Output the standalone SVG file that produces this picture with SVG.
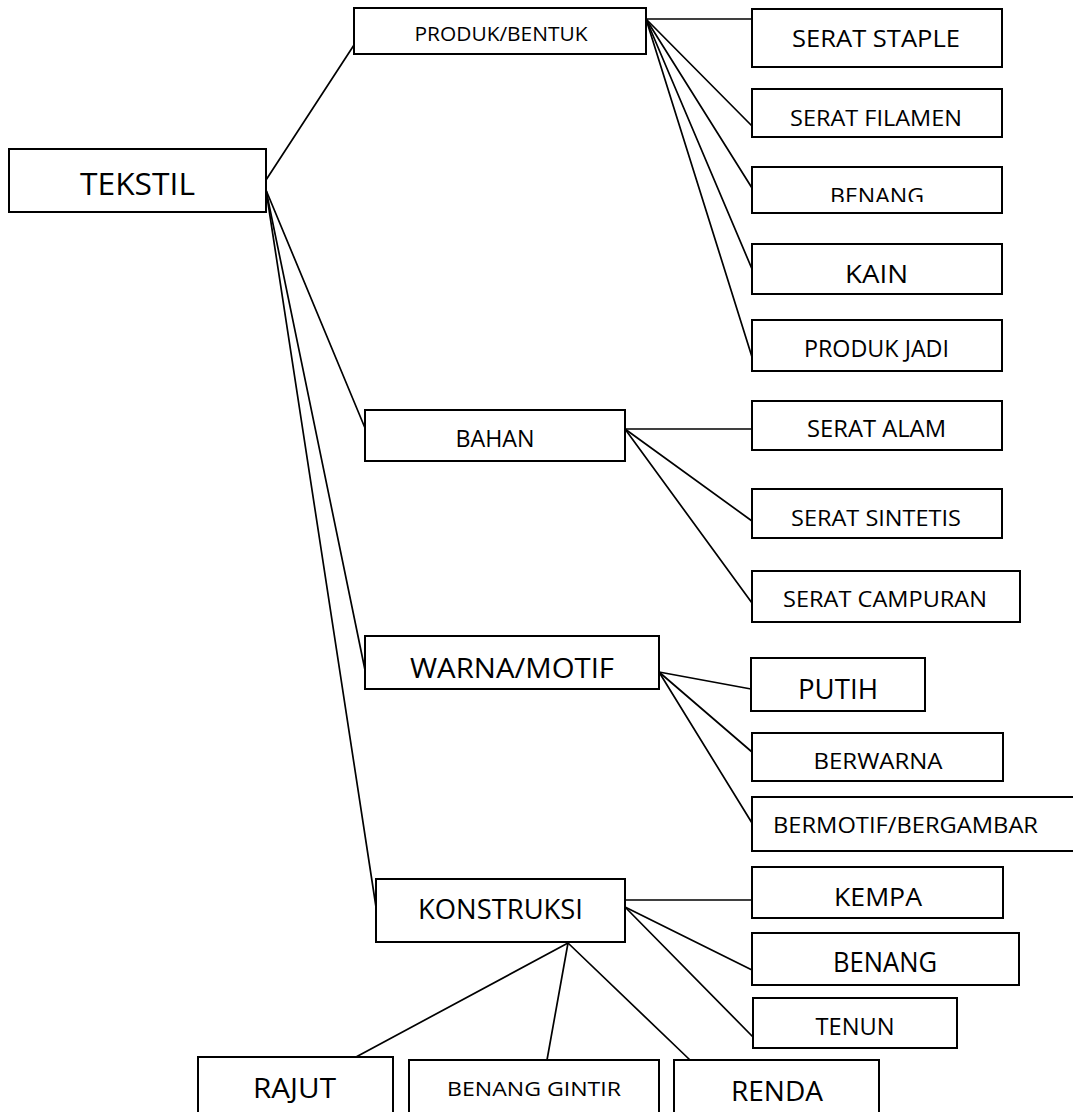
<svg xmlns="http://www.w3.org/2000/svg" width="1073" height="1112" viewBox="0 0 1073 1112">
  <style>
    .box { fill: #ffffff; stroke: #000000; stroke-width: 2; }
    .lbl { font-family: "Open Sans", "Noto Sans", "Liberation Sans", sans-serif; text-anchor: middle; fill: #000000; }
    #connectors line { stroke: #000000; stroke-width: 1.7; stroke-linecap: round; }
  </style>
  <defs>
    <!-- the label in this box is cut off along its bottom edge -->
    <clipPath id="clip-benang">
      <rect x="752" y="167" width="250" height="35"/>
    </clipPath>
  </defs>
  <rect x="0" y="0" width="1073" height="1112" fill="#ffffff"/>

  <g id="connectors">
    <!-- TEKSTIL to the four groups -->
    <line x1="266" y1="180" x2="354" y2="45"/>
    <line x1="266" y1="190" x2="365" y2="428"/>
    <line x1="266" y1="190" x2="365" y2="670"/>
    <line x1="266" y1="190" x2="376" y2="907"/>
    <!-- PRODUK/BENTUK -->
    <line x1="646" y1="19" x2="752" y2="19"/>
    <line x1="646" y1="19" x2="752" y2="126"/>
    <line x1="646" y1="19" x2="752" y2="188"/>
    <line x1="646" y1="19" x2="752" y2="269"/>
    <line x1="646" y1="19" x2="752" y2="357"/>
    <!-- BAHAN -->
    <line x1="625" y1="429" x2="752" y2="429"/>
    <line x1="625" y1="429" x2="752" y2="521"/>
    <line x1="625" y1="429" x2="752" y2="603"/>
    <!-- WARNA/MOTIF -->
    <line x1="659" y1="672" x2="751" y2="689"/>
    <line x1="659" y1="672" x2="752" y2="752"/>
    <line x1="659" y1="672" x2="752" y2="823"/>
    <!-- KONSTRUKSI -->
    <line x1="625" y1="900" x2="752" y2="900"/>
    <line x1="625" y1="907" x2="752" y2="970"/>
    <line x1="625" y1="907" x2="753" y2="1037"/>
    <line x1="568" y1="943" x2="356" y2="1057"/>
    <line x1="568" y1="943" x2="547" y2="1060"/>
    <line x1="568" y1="943" x2="690" y2="1060"/>
  </g>

  <g id="tekstil">
    <rect class="box" x="9" y="149" width="257" height="63"/>
    <text class="lbl" x="137.5" y="195" font-size="30.8" textLength="115" lengthAdjust="spacingAndGlyphs">TEKSTIL</text>
  </g>

  <g id="produk-bentuk">
    <rect class="box" x="354" y="8" width="292" height="46"/>
    <text class="lbl" x="501" y="41" font-size="19.5" textLength="173" lengthAdjust="spacingAndGlyphs">PRODUK/BENTUK</text>
  </g>
  <g id="serat-staple">
    <rect class="box" x="752" y="9" width="250" height="58"/>
    <text class="lbl" x="876" y="47" font-size="23.8" textLength="168" lengthAdjust="spacingAndGlyphs">SERAT STAPLE</text>
  </g>
  <g id="serat-filamen">
    <rect class="box" x="752" y="89" width="250" height="48"/>
    <text class="lbl" x="876" y="126" font-size="22.4" textLength="172" lengthAdjust="spacingAndGlyphs">SERAT FILAMEN</text>
  </g>
  <g id="benang-produk">
    <rect class="box" x="752" y="167" width="250" height="46"/>
    <text class="lbl" x="877" y="203.5" font-size="22.4" textLength="94" lengthAdjust="spacingAndGlyphs" clip-path="url(#clip-benang)">BENANG</text>
  </g>
  <g id="kain">
    <rect class="box" x="752" y="244" width="250" height="50"/>
    <text class="lbl" x="876.5" y="283" font-size="25.2" textLength="63" lengthAdjust="spacingAndGlyphs">KAIN</text>
  </g>
  <g id="produk-jadi">
    <rect class="box" x="752" y="320" width="250" height="51"/>
    <text class="lbl" x="876.5" y="357" font-size="23.8" textLength="145" lengthAdjust="spacingAndGlyphs">PRODUK JADI</text>
  </g>

  <g id="bahan">
    <rect class="box" x="365" y="410" width="260" height="51"/>
    <text class="lbl" x="495" y="447" font-size="23.8" textLength="79" lengthAdjust="spacingAndGlyphs">BAHAN</text>
  </g>
  <g id="serat-alam">
    <rect class="box" x="752" y="401" width="250" height="49"/>
    <text class="lbl" x="876.5" y="437" font-size="23.8" textLength="139" lengthAdjust="spacingAndGlyphs">SERAT ALAM</text>
  </g>
  <g id="serat-sintetis">
    <rect class="box" x="752" y="489" width="250" height="49"/>
    <text class="lbl" x="876" y="526" font-size="22.4" textLength="170" lengthAdjust="spacingAndGlyphs">SERAT SINTETIS</text>
  </g>
  <g id="serat-campuran">
    <rect class="box" x="752" y="571" width="268" height="51"/>
    <text class="lbl" x="885" y="607" font-size="22.4" textLength="204" lengthAdjust="spacingAndGlyphs">SERAT CAMPURAN</text>
  </g>

  <g id="warna-motif">
    <rect class="box" x="365" y="636" width="294" height="53"/>
    <text class="lbl" x="512" y="678" font-size="26.6" textLength="204" lengthAdjust="spacingAndGlyphs">WARNA/MOTIF</text>
  </g>
  <g id="putih">
    <rect class="box" x="751" y="658" width="174" height="53"/>
    <text class="lbl" x="838" y="699" font-size="28" textLength="80" lengthAdjust="spacingAndGlyphs">PUTIH</text>
  </g>
  <g id="berwarna">
    <rect class="box" x="752" y="733" width="251" height="48"/>
    <text class="lbl" x="878" y="769" font-size="22.4" textLength="129" lengthAdjust="spacingAndGlyphs">BERWARNA</text>
  </g>
  <g id="bermotif-bergambar">
    <rect class="box" x="752" y="797" width="324" height="54"/>
    <text class="lbl" x="905.5" y="833" font-size="22.4" textLength="265" lengthAdjust="spacingAndGlyphs">BERMOTIF/BERGAMBAR</text>
  </g>

  <g id="konstruksi">
    <rect class="box" x="376" y="879" width="249" height="63"/>
    <text class="lbl" x="500.5" y="919" font-size="28" textLength="165" lengthAdjust="spacingAndGlyphs">KONSTRUKSI</text>
  </g>
  <g id="kempa">
    <rect class="box" x="752" y="867" width="251" height="51"/>
    <text class="lbl" x="878" y="906" font-size="25.2" textLength="88" lengthAdjust="spacingAndGlyphs">KEMPA</text>
  </g>
  <g id="benang-konstruksi">
    <rect class="box" x="752" y="933" width="267" height="52"/>
    <text class="lbl" x="885" y="972" font-size="26.6" textLength="104" lengthAdjust="spacingAndGlyphs">BENANG</text>
  </g>
  <g id="tenun">
    <rect class="box" x="753" y="998" width="204" height="50"/>
    <text class="lbl" x="855" y="1035" font-size="23.8" textLength="79" lengthAdjust="spacingAndGlyphs">TENUN</text>
  </g>
  <g id="rajut">
    <rect class="box" x="198" y="1057" width="195" height="60"/>
    <text class="lbl" x="294.5" y="1098" font-size="26.6" textLength="83" lengthAdjust="spacingAndGlyphs">RAJUT</text>
  </g>
  <g id="benang-gintir">
    <rect class="box" x="409" y="1060" width="250" height="57"/>
    <text class="lbl" x="534" y="1096" font-size="19.6" textLength="174" lengthAdjust="spacingAndGlyphs">BENANG GINTIR</text>
  </g>
  <g id="renda">
    <rect class="box" x="674" y="1060" width="205" height="57"/>
    <text class="lbl" x="777" y="1101" font-size="26.6" textLength="92" lengthAdjust="spacingAndGlyphs">RENDA</text>
  </g>
</svg>
